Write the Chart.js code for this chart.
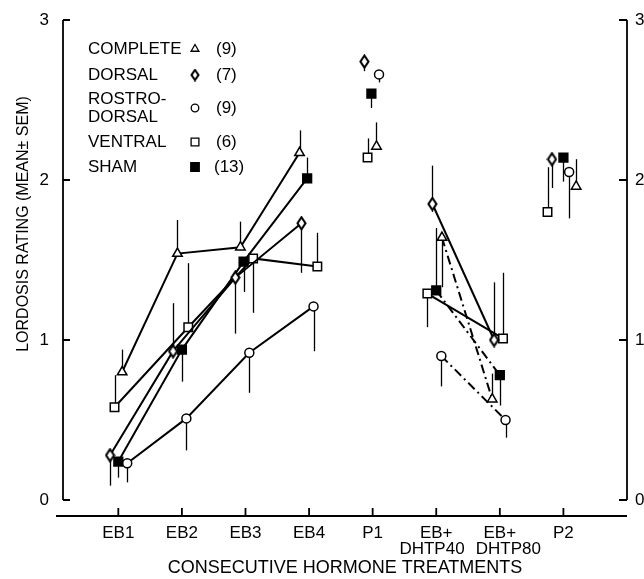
<!DOCTYPE html>
<html>
<head>
<meta charset="utf-8">
<script src="https://cdn.jsdelivr.net/npm/chart.js@4.4.1/dist/chart.umd.min.js"></script>
<style>
  html, body { margin: 0; background: #fff; }
  #wrap { width: 644px; height: 579px; }
</style>
</head>
<body>
<div id="wrap"><canvas id="chart"></canvas></div>
<script>
const categories = ['EB1', 'EB2', 'EB3', 'EB4', 'P1', ['EB+', 'DHTP40\u2002'], ['EB+', '\u2002\u2002DHTP80'], 'P2'];
const yTicks = [0, 1, 2, 3];
const groupNames = [['COMPLETE'], ['DORSAL'], ['ROSTRO-', 'DORSAL'], ['VENTRAL'], ['SHAM']];
const groupN = ['(9)', '(7)', '(9)', '(6)', '(13)'];

// mean lordosis rating per treatment
const complete     = [0.80, 1.54, 1.58, 2.17, 2.21, 1.64, 0.63, 1.96];
const dorsal       = [0.28, 0.93, 1.39, 1.73, 2.74, 1.85, 1.00, 2.13];
const rostrodorsal = [0.23, 0.51, 0.92, 1.21, 2.66, 0.90, 0.50, 2.05];
const ventral      = [0.58, 1.08, 1.51, 1.46, 2.14, 1.29, 1.01, 1.80];
const sham         = [0.24, 0.94, 1.49, 2.01, 2.54, 1.31, 0.78, 2.14];

// where the one-sided SEM bar ends (mean + or - SEM, as drawn)
const completeSem     = [0.94, 1.75, 1.74, 2.31, 2.36, 1.33, 0.79, 2.13];
const dorsalSem       = [0.09, 1.23, 1.04, 1.42, 2.68, 2.09, 1.36, 1.95];
const rostrodorsalSem = [0.11, 0.31, 0.67, 0.93, 2.61, 0.71, 0.39, 1.76];
const ventralSem      = [0.78, 1.48, 1.17, 1.67, 2.26, 1.08, 1.42, 2.08];
const shamSem         = [0.14, 0.74, 1.30, 2.14, 2.45, 1.70, 0.59, 1.99];

// small sideways nudges so the symbols don't sit on top of each other
const completeShift     = [0.06, -0.07, -0.08, -0.15, 0.06, 0.09, -0.12, 0.20];
const dorsalShift       = [-0.13, -0.14, -0.16, -0.12, -0.13, -0.06, -0.09, -0.18];
const rostrodorsalShift = [0.14, 0.07, 0.06, 0.07, 0.10, 0.08, 0.09, 0.09];
const ventralShift      = [-0.06, 0.10, 0.12, 0.13, -0.08, -0.14, 0.05, -0.25];
const shamShift         = [0, 0, -0.03, -0.03, -0.02, 0, 0, 0];

// segments that get a line (index of first point)
const joined = [0, 1, 2, 5];
const dashDot = [9, 4, 2, 4];
const FONT = 'Liberation Sans, Arial, sans-serif';
const Y_TITLE = 'LORDOSIS RATING (MEAN\u00b1 SEM)';

function tallDiamond(w, h) {
  const c = document.createElement('canvas');
  c.width = w + 3; c.height = h + 3;
  const g = c.getContext('2d');
  const cx = c.width / 2, cy = c.height / 2;
  g.beginPath();
  g.moveTo(cx, 1.5);
  g.lineTo(c.width - 1.5, cy);
  g.lineTo(cx, c.height - 1.5);
  g.lineTo(1.5, cy);
  g.closePath();
  g.fillStyle = '#fff'; g.fill();
  g.lineWidth = 2.1; g.strokeStyle = '#000'; g.stroke();
  return c;
}
const diamondImg = tallDiamond(8, 12);
const diamondSmall = tallDiamond(7, 10);

function makeSet(label, means, sems, shift, style, radius, filled, dhtDash) {
  return {
    label: label,
    data: means.map((v, i) => ({ x: i + shift[i], y: v })),
    semEnd: sems,
    showLine: true,
    borderColor: '#000',
    borderWidth: 2,
    pointStyle: style,
    pointRadius: radius,
    pointBorderWidth: 1.5,
    pointBorderColor: '#000',
    pointBackgroundColor: filled ? '#000' : '#fff',
    segment: {
      borderColor: ctx => joined.includes(ctx.p0DataIndex) ? '#000' : 'transparent',
      borderDash: ctx => (dhtDash && ctx.p0DataIndex === 5) ? dashDot : []
    }
  };
}

const errorBars = {
  id: 'errorBars',
  beforeDatasetsDraw(chart) {
    const { ctx, scales: { x, y } } = chart;
    ctx.save();
    ctx.strokeStyle = '#000';
    ctx.lineWidth = 1.3;
    chart.data.datasets.forEach(ds => {
      ds.data.forEach((p, i) => {
        const px = Math.round(x.getPixelForValue(p.x)) + 0.5;
        ctx.beginPath();
        ctx.moveTo(px, y.getPixelForValue(p.y));
        ctx.lineTo(px, y.getPixelForValue(ds.semEnd[i]));
        ctx.stroke();
      });
    });
    ctx.restore();
  }
};

const axesFrame = {
  id: 'axesFrame',
  beforeDatasetsDraw(chart) {
    const { ctx, chartArea: a, scales: { x, y } } = chart;
    const y0 = y.getPixelForValue(0), y3 = y.getPixelForValue(3);
    ctx.save();
    ctx.strokeStyle = '#000';
    ctx.lineWidth = 1.8;
    ctx.beginPath();
    // bottom axis, sitting below the zero line
    ctx.moveTo(a.left - 7, a.bottom); ctx.lineTo(a.right, a.bottom);
    categories.forEach((c, i) => {
      const px = x.getPixelForValue(i);
      ctx.moveTo(px, a.bottom); ctx.lineTo(px, a.bottom - 8);
    });
    // left and right axes
    ctx.moveTo(a.left, y0); ctx.lineTo(a.left, y3);
    ctx.moveTo(a.right, y0); ctx.lineTo(a.right, y3);
    yTicks.forEach(t => {
      const py = y.getPixelForValue(t);
      ctx.moveTo(a.left, py); ctx.lineTo(a.left + 7, py);
      ctx.moveTo(a.right, py); ctx.lineTo(a.right - 8, py);
    });
    ctx.stroke();

    // y title sits a bit above the middle of the axis in the original
    ctx.fillStyle = '#000';
    ctx.font = '16px ' + FONT;
    ctx.textAlign = 'center';
    ctx.textBaseline = 'middle';
    ctx.translate(24, 224);
    ctx.rotate(-Math.PI / 2);
    ctx.fillText(Y_TITLE, 0, 0);
    ctx.restore();
  }
};

const groupLegend = {
  id: 'groupLegend',
  afterDraw(chart) {
    const { ctx, chartArea: a } = chart;
    const marks = [
      { pointStyle: 'triangle', radius: 4.5, fill: '#fff' },
      { pointStyle: diamondSmall, radius: 5, fill: '#fff' },
      { pointStyle: 'circle', radius: 3.8, fill: '#fff' },
      { pointStyle: 'rect', radius: 5.5, fill: '#fff' },
      { pointStyle: 'rect', radius: 6, fill: '#000' }
    ];
    const rows = [49, 75, 108, 142, 167];
    ctx.save();
    ctx.font = '17px ' + FONT;
    ctx.fillStyle = '#000';
    ctx.textBaseline = 'middle';
    groupNames.forEach((name, k) => {
      const yc = rows[k];
      if (name.length === 1) {
        ctx.fillText(name[0], a.left + 25, yc);
      } else {
        ctx.fillText(name[0], a.left + 25, yc - 9);
        ctx.fillText(name[1], a.left + 25, yc + 9);
      }
      ctx.fillText(groupN[k], a.left + (groupN[k].length > 3 ? 151 : 153), yc);
      ctx.fillStyle = marks[k].fill;
      ctx.strokeStyle = '#000';
      ctx.lineWidth = 1.3;
      Chart.helpers.drawPoint(ctx, { pointStyle: marks[k].pointStyle, radius: marks[k].radius, borderWidth: 1.3, rotation: 0 }, Math.round(a.left + 132), yc);
      ctx.fillStyle = '#000';
    });
    ctx.restore();
  }
};

const tickFont = { family: FONT, size: 17, lineHeight: 0.9 };

new Chart(document.getElementById('chart'), {
  type: 'scatter',
  data: {
    datasets: [
      makeSet('COMPLETE', complete, completeSem, completeShift, 'triangle', 5.5, false, true),
      makeSet('DORSAL', dorsal, dorsalSem, dorsalShift, diamondImg, 6, false, false),
      makeSet('ROSTRO-DORSAL', rostrodorsal, rostrodorsalSem, rostrodorsalShift, 'circle', 4.5, false, true),
      makeSet('VENTRAL', ventral, ventralSem, ventralShift, 'rect', 6, false, false),
      makeSet('SHAM', sham, shamSem, shamShift, 'rect', 6.2, true, true)
    ]
  },
  options: {
    responsive: true,
    maintainAspectRatio: false,
    animation: false,
    devicePixelRatio: 1,
    layout: { padding: { top: 20, left: 0, right: 0, bottom: 0 } },
    plugins: { legend: { display: false }, tooltip: { enabled: false } },
    scales: {
      x: {
        type: 'linear',
        min: -0.87,
        max: 8.0,
        afterBuildTicks: s => { s.ticks = categories.map((c, i) => ({ value: i })); },
        afterFit: s => { s.height = 63; },
        grid: { display: false },
        border: { display: false },
        ticks: {
          callback: v => categories[v],
          color: '#000',
          font: tickFont,
          padding: 2,
          maxRotation: 0,
          autoSkip: false
        },
        title: {
          display: true,
          text: 'CONSECUTIVE HORMONE TREATMENTS',
          color: '#000',
          font: { family: FONT, size: 18 },
          padding: { top: 0, bottom: 0 }
        }
      },
      y: {
        position: 'left',
        min: -0.1,
        max: 3,
        afterBuildTicks: s => { s.ticks = yTicks.map(v => ({ value: v })); },
        afterFit: s => { s.width = 63; },
        grid: { display: false },
        border: { display: false },
        ticks: { color: '#000', font: { family: FONT, size: 17 }, padding: 6 }
      },
      y2: {
        position: 'right',
        min: -0.1,
        max: 3,
        afterBuildTicks: s => { s.ticks = yTicks.map(v => ({ value: v })); },
        afterFit: s => { s.width = 17; },
        grid: { display: false },
        border: { display: false },
        ticks: { color: '#000', font: { family: FONT, size: 17 }, padding: 0 }
      }
    }
  },
  plugins: [axesFrame, errorBars, groupLegend]
});
</script>
</body>
</html>
